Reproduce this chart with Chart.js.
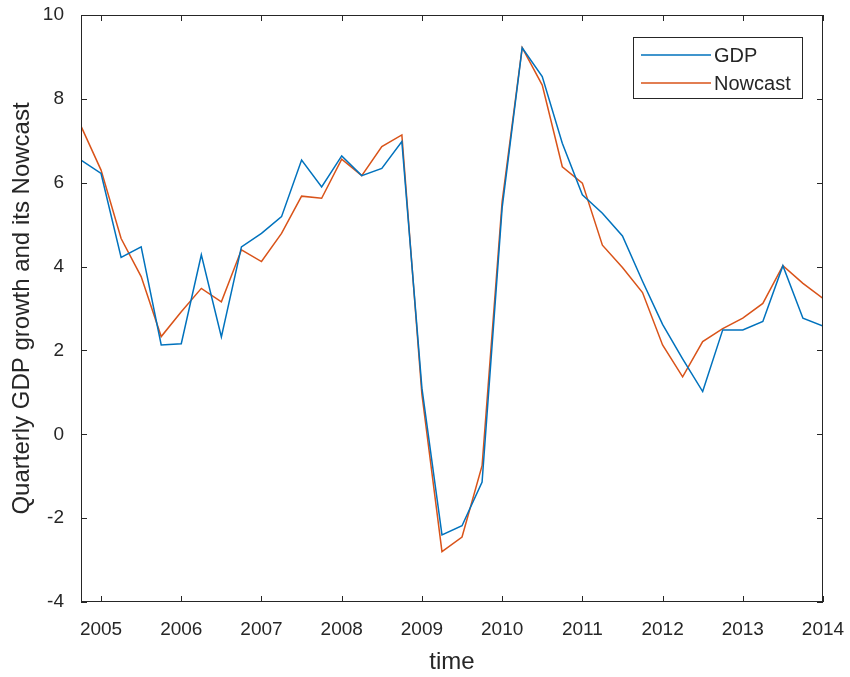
<!DOCTYPE html>
<html>
<head>
<meta charset="utf-8">
<script src="https://cdn.jsdelivr.net/npm/chart.js@4.4.1/dist/chart.umd.min.js"></script>
<style>
	body { margin: 0; background: #fff; }
	#wrap { width: 850px; height: 677px; position: relative; }
</style>
</head>
<body>
<div id="wrap"><canvas id="gdpChart"></canvas></div>
<script>
	// quarterly data
	let quarters = ['2004Q4',
		'2005Q1', '2005Q2', '2005Q3', '2005Q4', '2006Q1', '2006Q2', '2006Q3', '2006Q4',
		'2007Q1', '2007Q2', '2007Q3', '2007Q4', '2008Q1', '2008Q2', '2008Q3', '2008Q4',
		'2009Q1', '2009Q2', '2009Q3', '2009Q4', '2010Q1', '2010Q2', '2010Q3', '2010Q4',
		'2011Q1', '2011Q2', '2011Q3', '2011Q4', '2012Q1', '2012Q2', '2012Q3', '2012Q4',
		'2013Q1', '2013Q2', '2013Q3', '2013Q4', '2014Q1'];
	let gdp = [6.54,
		6.22, 4.22, 4.47, 2.13, 2.16, 4.28, 2.32, 4.47,
		4.79, 5.19, 6.54, 5.90, 6.64, 6.17, 6.34, 6.98,
		1.10, -2.40, -2.18, -1.14, 5.40, 9.22, 8.53, 6.94,
		5.71, 5.27, 4.73, 3.65, 2.62, 1.80, 1.02, 2.49,
		2.49, 2.69, 4.02, 2.77, 2.58];
	let nowcast = [7.35,
		6.30, 4.67, 3.76, 2.33, 2.92, 3.48, 3.16, 4.40,
		4.12, 4.79, 5.68, 5.63, 6.56, 6.17, 6.86, 7.14,
		0.95, -2.80, -2.45, -0.75, 5.55, 9.22, 8.33, 6.38,
		5.99, 4.51, 3.98, 3.38, 2.13, 1.37, 2.21, 2.52,
		2.77, 3.12, 4.02, 3.60, 3.24];
	let yearTicks = [2005, 2006, 2007, 2008, 2009, 2010, 2011, 2012, 2013, 2014];
	let yTicks = [-4, -2, 0, 2, 4, 6, 8, 10];
	let seriesNames = ['GDP', 'Nowcast'];
	let seriesColors = ['#0072BD', '#D95319'];

	let axisColor = '#262626';
	let fontFamily = 'Arial, "Liberation Sans", sans-serif';

	function quarterToX(q) {
		let parts = q.split('Q');
		return parseInt(parts[0]) + (parseInt(parts[1]) - 1) / 4;
	}

	function toPoints(values) {
		return values.map(function (v, i) {
			return {x: quarterToX(quarters[i]), y: v};
		});
	}

	// MATLAB style box with inward ticks, plus legend inside the axes
	let matlabBox = {
		id: 'matlabBox',
		afterDraw: function (chart) {
			let ctx = chart.ctx;
			let area = chart.chartArea;
			let xs = chart.scales.x;
			let ys = chart.scales.y;
			let tl = 6;
			ctx.save();
			ctx.strokeStyle = axisColor;
			ctx.lineWidth = 1;
			ctx.strokeRect(area.left + 0.5, area.top + 0.5, area.right - area.left - 1, area.bottom - area.top - 1);
			ctx.beginPath();
			yearTicks.forEach(function (t) {
				let px = Math.round(xs.getPixelForValue(t)) + 0.5;
				ctx.moveTo(px, area.bottom); ctx.lineTo(px, area.bottom - tl);
				ctx.moveTo(px, area.top); ctx.lineTo(px, area.top + tl);
			});
			yTicks.forEach(function (t) {
				let py = Math.round(ys.getPixelForValue(t)) + 0.5;
				ctx.moveTo(area.left, py); ctx.lineTo(area.left + tl, py);
				ctx.moveTo(area.right, py); ctx.lineTo(area.right - tl, py);
			});
			ctx.stroke();

			// legend
			let bw = 169, bh = 61;
			let bx = area.right - 21 - bw;
			let by = area.top + 22;
			ctx.fillStyle = '#fff';
			ctx.fillRect(bx, by, bw, bh);
			ctx.strokeStyle = axisColor;
			ctx.strokeRect(bx + 0.5, by + 0.5, bw, bh);
			ctx.font = '20px ' + fontFamily;
			ctx.textBaseline = 'middle';
			ctx.textAlign = 'left';
			chart.data.datasets.forEach(function (ds, i) {
				let ly = by + 18 + i * 28;
				ctx.strokeStyle = ds.borderColor;
				ctx.lineWidth = 1.5;
				ctx.beginPath();
				ctx.moveTo(bx + 8, ly); ctx.lineTo(bx + 78, ly);
				ctx.stroke();
				ctx.fillStyle = axisColor;
				ctx.fillText(ds.label, bx + 81, ly + 1);
			});
			ctx.restore();
		}
	};

	let ctx = document.getElementById('gdpChart').getContext('2d');
	new Chart(ctx, {
		type: 'line',
		data: {
			datasets: [
				{label: seriesNames[0], data: toPoints(gdp), borderColor: seriesColors[0], borderWidth: 1.5, pointRadius: 0, tension: 0, fill: false},
				{label: seriesNames[1], data: toPoints(nowcast), borderColor: seriesColors[1], borderWidth: 1.5, pointRadius: 0, tension: 0, fill: false}
			]
		},
		options: {
			responsive: true,
			maintainAspectRatio: false,
			animation: false,
			layout: {padding: {left: 0, right: 27, top: 15, bottom: 0}},
			plugins: {
				legend: {display: false},
				tooltip: {enabled: false}
			},
			scales: {
				x: {
					type: 'linear',
					min: quarterToX(quarters[0]),
					max: quarterToX(quarters[quarters.length - 1]),
					afterBuildTicks: function (scale) {
						scale.ticks = yearTicks.map(function (v) { return {value: v}; });
					},
					afterFit: function (scale) {
						scale.height = 75;
						scale.paddingLeft = 0;
						scale.paddingRight = 0;
					},
					grid: {display: false, drawTicks: false},
					border: {display: false},
					ticks: {
						color: axisColor,
						padding: 16,
						maxRotation: 0,
						font: {family: fontFamily, size: 19},
						callback: function (v) { return String(v); }
					},
					title: {
						display: true,
						text: 'time',
						color: axisColor,
						padding: 0,
						font: {family: fontFamily, size: 24}
					}
				},
				y: {
					min: -4,
					max: 10,
					afterBuildTicks: function (scale) {
						scale.ticks = yTicks.map(function (v) { return {value: v}; });
					},
					afterFit: function (scale) {
						scale.width = 81;
						scale.paddingTop = 0;
						scale.paddingBottom = 0;
					},
					grid: {display: false, drawTicks: false},
					border: {display: false},
					ticks: {
						color: axisColor,
						padding: 17,
						font: {family: fontFamily, size: 19}
					},
					title: {
						display: true,
						text: 'Quarterly GDP growth and its Nowcast',
						color: axisColor,
						padding: {top: 8, bottom: 0},
						font: {family: fontFamily, size: 24}
					}
				}
			}
		},
		plugins: [matlabBox]
	});
</script>
</body>
</html>
